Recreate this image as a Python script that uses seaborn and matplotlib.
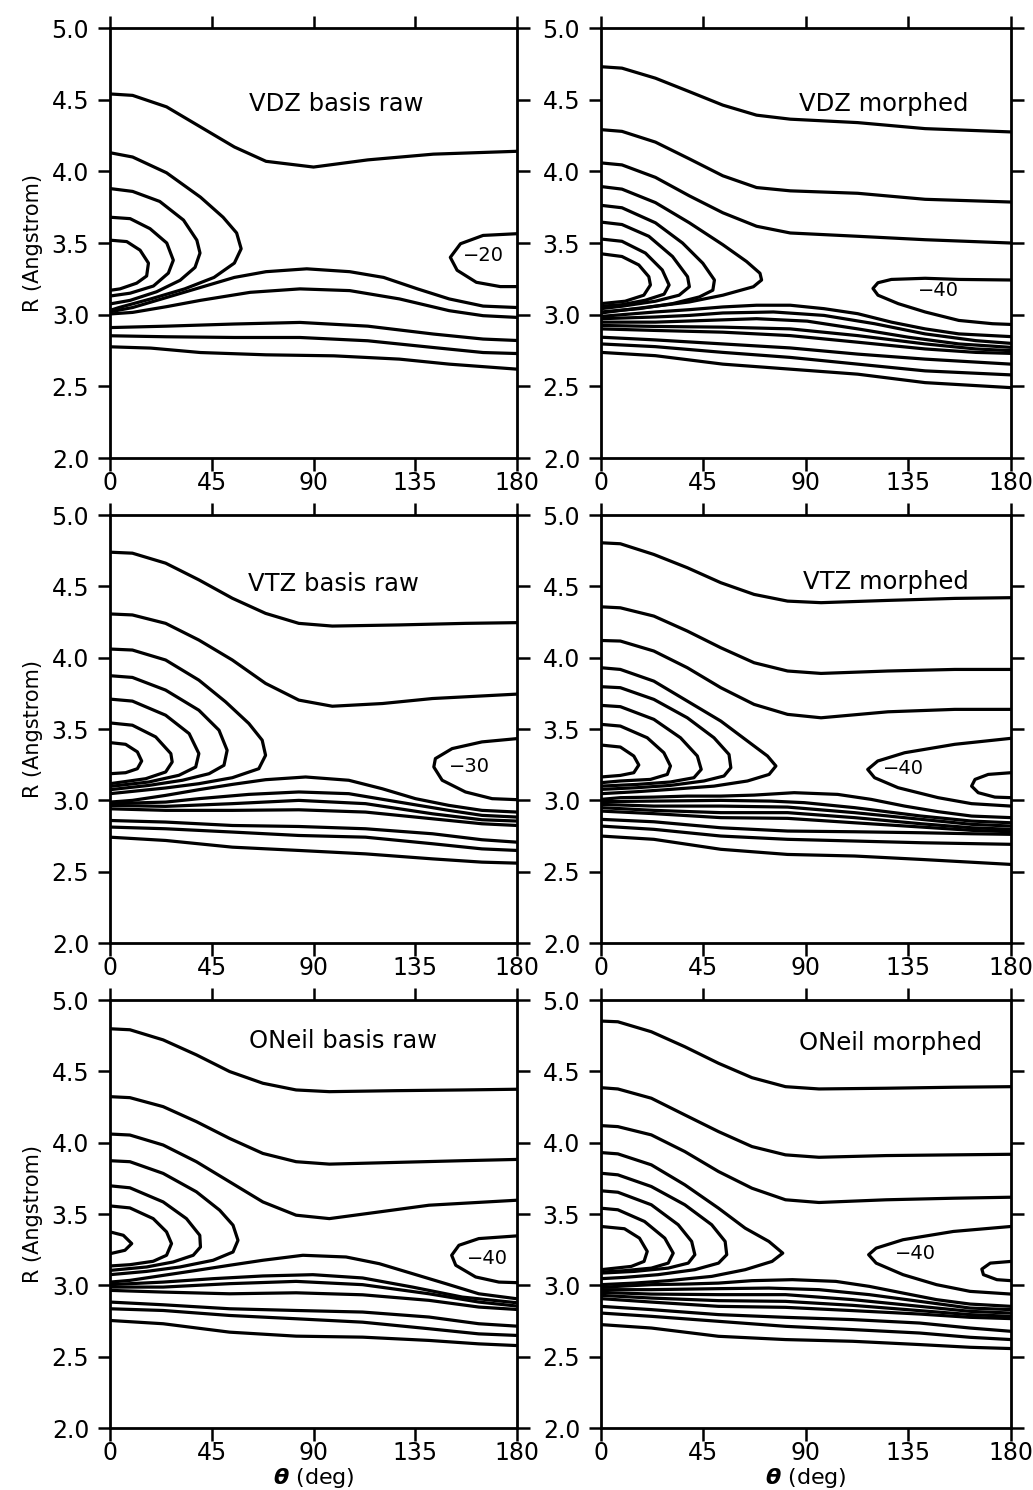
import matplotlib
matplotlib.use("Agg")
import matplotlib.pyplot as plt
import seaborn as sns

# contour lines: theta (deg) and R (Angstrom) per line

# --- VDZ basis raw
vdz_raw_theta = [
    [0, 10, 25, 40, 55, 69, 90, 114, 143, 180],
    [0, 10, 25, 40, 50, 56, 58, 55, 46, 33, 18, 4, 0],
    [0, 10, 22, 32.5, 38.4, 39.8, 37.6, 31, 20.6, 8.9, 0],
    [0, 8.9, 17.7, 25.1, 28, 25.8, 19.2, 8.9, 0],
    [0, 7.4, 13.3, 17, 16.2, 11.8, 4.4, 0],
    [0, 10, 25, 40, 55, 69, 87, 106, 121, 136, 150, 165, 180],
    [0, 10, 25, 40, 62, 84, 106, 128, 150, 165, 180],
    [0, 25, 55, 84, 114, 143, 165, 180],
    [0, 25, 55, 84, 114, 143, 165, 180],
    [0, 18, 40, 69, 99, 128, 150, 180],
    [180, 165, 155, 150.5, 153.5, 162, 172.6, 180],
]
vdz_raw_r = [
    [4.54, 4.53, 4.45, 4.31, 4.17, 4.07, 4.03, 4.08, 4.12, 4.14],
    [4.13, 4.10, 3.99, 3.82, 3.68, 3.57, 3.46, 3.36, 3.26, 3.18, 3.11, 3.05, 3.03],
    [3.88, 3.86, 3.79, 3.66, 3.52, 3.43, 3.33, 3.24, 3.16, 3.10, 3.075],
    [3.68, 3.67, 3.60, 3.50, 3.38, 3.29, 3.20, 3.15, 3.13],
    [3.52, 3.51, 3.45, 3.36, 3.27, 3.22, 3.18, 3.17],
    [3.02, 3.05, 3.12, 3.19, 3.26, 3.30, 3.32, 3.30, 3.26, 3.18, 3.11, 3.06, 3.05],
    [3.005, 3.016, 3.056, 3.10, 3.156, 3.18, 3.168, 3.11, 3.028, 2.993, 2.981],
    [2.91, 2.92, 2.935, 2.946, 2.92, 2.865, 2.83, 2.82],
    [2.853, 2.846, 2.841, 2.841, 2.818, 2.771, 2.736, 2.729],
    [2.776, 2.767, 2.736, 2.72, 2.713, 2.69, 2.655, 2.62],
    [3.565, 3.553, 3.495, 3.40, 3.31, 3.226, 3.196, 3.196],
]

# --- VDZ morphed
vdz_mor_theta = [
    [0, 9.2, 23.9, 38.8, 53.5, 68.3, 83.1, 112.7, 142.3, 180],
    [0, 9.2, 23.9, 38.8, 53.5, 68.3, 83.1, 112.7, 142.3, 180],
    [0, 9.2, 23.9, 38.8, 53.5, 68.3, 83.1, 112.7, 142.3, 180],
    [0, 9.2, 23.9, 38.8, 53.5, 63.9, 69.8, 70.5, 66.9, 53.5, 38.8, 23.9, 9.2, 0],
    [0, 9.2, 23.9, 35.8, 44.7, 49.8, 49.1, 43.2, 31.4, 16.6, 0],
    [0, 9.2, 21, 31.4, 38, 38.8, 34.3, 23.9, 9.2, 0],
    [0, 9.2, 19.5, 26.9, 29.9, 27.7, 19.5, 9.2, 0],
    [0, 9.2, 16.6, 21, 21.7, 18.8, 10.6, 0],
    [180, 157.1, 142.3, 127.5, 121.6, 119.4, 121.6, 130.5, 142.3, 157.1, 171.9, 180],
    [0, 9.2, 23.9, 38.8, 53.5, 68.3, 83.1, 97.9, 112.7, 127.5, 142.3, 157.1, 180],
    [0, 23.9, 38.8, 53.5, 75.7, 97.9, 120.1, 142.3, 164.5, 180],
    [0, 23.9, 46.1, 68.3, 90.5, 112.7, 134.9, 157.1, 180],
    [0, 23.9, 53.5, 83.1, 112.7, 142.3, 164.5, 180],
    [0, 23.9, 53.5, 83.1, 112.7, 142.3, 164.5, 180],
    [0, 23.9, 53.5, 83.1, 112.7, 142.3, 180],
    [0, 23.9, 53.5, 83.1, 112.7, 142.3, 180],
    [0, 23.9, 53.5, 83.1, 112.7, 142.3, 180],
]
vdz_mor_r = [
    [4.73, 4.72, 4.65, 4.556, 4.462, 4.392, 4.364, 4.34, 4.298, 4.275],
    [4.291, 4.279, 4.204, 4.087, 3.969, 3.887, 3.864, 3.847, 3.805, 3.786],
    [4.059, 4.045, 3.958, 3.829, 3.711, 3.617, 3.57, 3.547, 3.523, 3.50],
    [3.894, 3.876, 3.782, 3.641, 3.488, 3.371, 3.289, 3.242, 3.195, 3.136, 3.089, 3.059, 3.031, 3.012],
    [3.763, 3.746, 3.641, 3.50, 3.359, 3.242, 3.171, 3.124, 3.077, 3.042, 3.019],
    [3.646, 3.629, 3.547, 3.406, 3.265, 3.195, 3.136, 3.094, 3.059, 3.042],
    [3.528, 3.512, 3.43, 3.312, 3.207, 3.143, 3.101, 3.07, 3.059],
    [3.425, 3.406, 3.347, 3.265, 3.207, 3.136, 3.094, 3.077],
    [3.242, 3.246, 3.254, 3.246, 3.223, 3.183, 3.136, 3.077, 3.019, 2.96, 2.937, 2.932],
    [2.988, 3.0, 3.019, 3.035, 3.054, 3.066, 3.066, 3.042, 3.007, 2.948, 2.901, 2.866, 2.847],
    [2.972, 2.984, 2.995, 3.012, 3.019, 2.995, 2.937, 2.866, 2.819, 2.80],
    [2.948, 2.948, 2.96, 2.972, 2.955, 2.901, 2.843, 2.796, 2.772],
    [2.925, 2.918, 2.913, 2.901, 2.854, 2.796, 2.761, 2.749],
    [2.901, 2.89, 2.878, 2.854, 2.808, 2.761, 2.737, 2.73],
    [2.843, 2.824, 2.796, 2.768, 2.725, 2.69, 2.655],
    [2.796, 2.777, 2.737, 2.702, 2.655, 2.608, 2.58],
    [2.737, 2.714, 2.655, 2.62, 2.585, 2.526, 2.491],
]

# --- VTZ basis raw
vtz_raw_theta = [
    [0, 9.9, 24.6, 39.3, 54.1, 68.8, 83.5, 98.3, 127.8, 157.2, 180],
    [0, 9.9, 24.6, 39.3, 54.1, 68.8, 83.5, 98.3, 120.5, 142.6, 180],
    [0, 9.9, 24.6, 39.3, 51.1, 61.4, 67.3, 68.8, 65.8, 54.1, 39.3, 24.6, 9.9, 0],
    [0, 9.9, 24.6, 39.3, 48.2, 51.8, 50.4, 43.8, 32, 17.2, 0],
    [0, 9.9, 24.6, 35, 39.3, 37.9, 30.5, 17.2, 0],
    [0, 9.9, 20.2, 26.9, 27.5, 24.6, 15.8, 0],
    [0, 6.9, 12.1, 14, 12.1, 6.9, 0],
    [180, 164.5, 151.3, 143.9, 143.2, 146.9, 157.2, 169, 180],
    [0, 9.9, 24.6, 39.3, 54.1, 68.8, 86.5, 105.6, 120.3, 135.1, 149.8, 164.5, 180],
    [0, 24.6, 39.3, 61.4, 83.5, 105.6, 127.8, 149.8, 164.5, 180],
    [0, 24.6, 54.1, 83.5, 113, 142.6, 164.5, 180],
    [0, 24.6, 54.1, 83.5, 113, 142.6, 164.5, 180],
    [0, 24.6, 54.1, 83.5, 113, 142.6, 164.5, 180],
    [0, 24.6, 54.1, 83.5, 113, 142.6, 164.5, 180],
    [0, 24.6, 54.1, 83.5, 113, 142.6, 164.5, 180],
]
vtz_raw_r = [
    [4.74, 4.733, 4.663, 4.546, 4.417, 4.311, 4.241, 4.222, 4.23, 4.241, 4.246],
    [4.307, 4.30, 4.241, 4.124, 3.984, 3.82, 3.703, 3.66, 3.679, 3.714, 3.745],
    [4.061, 4.054, 3.984, 3.843, 3.691, 3.539, 3.422, 3.316, 3.222, 3.159, 3.117, 3.087, 3.063, 3.047],
    [3.874, 3.862, 3.773, 3.632, 3.492, 3.351, 3.246, 3.187, 3.141, 3.105, 3.075],
    [3.71, 3.696, 3.597, 3.468, 3.328, 3.234, 3.176, 3.129, 3.098],
    [3.543, 3.527, 3.445, 3.328, 3.269, 3.199, 3.152, 3.117],
    [3.405, 3.393, 3.34, 3.276, 3.222, 3.194, 3.187],
    [3.433, 3.41, 3.363, 3.293, 3.234, 3.141, 3.059, 3.012, 3.005],
    [2.988, 3.0, 3.035, 3.075, 3.112, 3.145, 3.164, 3.141, 3.082, 3.012, 2.965, 2.93, 2.918],
    [2.977, 2.988, 3.012, 3.042, 3.059, 3.047, 2.988, 2.93, 2.895, 2.883],
    [2.965, 2.958, 2.977, 3.0, 2.977, 2.906, 2.864, 2.855],
    [2.941, 2.93, 2.93, 2.934, 2.918, 2.871, 2.836, 2.824],
    [2.859, 2.848, 2.824, 2.817, 2.801, 2.766, 2.724, 2.707],
    [2.813, 2.801, 2.778, 2.754, 2.742, 2.696, 2.66, 2.649],
    [2.742, 2.719, 2.672, 2.649, 2.625, 2.59, 2.567, 2.56],
]

# --- VTZ morphed
vtz_mor_theta = [
    [0, 8.5, 23.2, 37.9, 52.6, 67.2, 81.9, 96.6, 126, 155.3, 180],
    [0, 8.5, 23.2, 37.9, 52.6, 67.2, 81.9, 96.6, 126, 155.3, 180],
    [0, 8.5, 23.2, 37.9, 52.6, 67.2, 81.9, 96.6, 126, 155.3, 180],
    [0, 8.5, 23.2, 37.9, 52.6, 64.3, 73.1, 76.8, 73.8, 64.3, 49.6, 30.5, 15.9, 0],
    [0, 8.5, 23.2, 37.9, 49.6, 56.2, 57, 54, 45.2, 30.5, 15.9, 0],
    [0, 8.5, 23.2, 34.9, 42.3, 44, 40.8, 30.5, 15.9, 0],
    [0, 8.5, 20.3, 27.6, 30.5, 29.1, 21.7, 8.5, 0],
    [0, 8.5, 14.4, 16.6, 14.4, 8.5, 0],
    [180, 155.3, 133.3, 121.5, 117.1, 120.1, 130.4, 148, 162.7, 180],
    [180, 170, 164.2, 162.7, 165.6, 172.9, 180],
    [0, 8.5, 23.2, 37.9, 52.6, 67.2, 84.8, 103.9, 118.6, 133.3, 147.9, 162.7, 180],
    [0, 23.2, 52.6, 74.6, 89.3, 111.3, 140.6, 162.7, 180],
    [0, 23.2, 52.6, 81.9, 111.3, 140.6, 162.7, 180],
    [0, 23.2, 52.6, 81.9, 111.3, 140.6, 162.7, 180],
    [0, 23.2, 52.6, 81.9, 111.3, 140.6, 162.7, 180],
    [0, 23.2, 52.6, 81.9, 111.3, 140.6, 162.7, 180],
    [0, 23.2, 52.6, 81.9, 111.3, 140.6, 180],
    [0, 23.2, 52.6, 81.9, 111.3, 140.6, 180],
]
vtz_mor_r = [
    [4.806, 4.799, 4.724, 4.631, 4.526, 4.444, 4.397, 4.386, 4.402, 4.416, 4.421],
    [4.357, 4.35, 4.292, 4.187, 4.07, 3.965, 3.907, 3.89, 3.907, 3.918, 3.918],
    [4.121, 4.117, 4.047, 3.93, 3.79, 3.673, 3.603, 3.579, 3.621, 3.638, 3.638],
    [3.93, 3.918, 3.836, 3.696, 3.556, 3.416, 3.311, 3.241, 3.182, 3.136, 3.10, 3.077, 3.061, 3.047],
    [3.797, 3.79, 3.708, 3.579, 3.439, 3.322, 3.229, 3.171, 3.136, 3.105, 3.089, 3.077],
    [3.666, 3.657, 3.568, 3.439, 3.311, 3.217, 3.159, 3.129, 3.112, 3.10],
    [3.533, 3.521, 3.439, 3.334, 3.241, 3.182, 3.147, 3.136, 3.124],
    [3.388, 3.374, 3.311, 3.248, 3.194, 3.175, 3.164],
    [3.435, 3.393, 3.334, 3.276, 3.217, 3.159, 3.089, 3.019, 2.977, 2.96],
    [3.194, 3.182, 3.147, 3.10, 3.054, 3.023, 3.019],
    [3.007, 3.019, 3.023, 3.03, 3.03, 3.037, 3.054, 3.042, 3.007, 2.96, 2.921, 2.89, 2.879],
    [2.991, 2.995, 3.0, 2.995, 2.984, 2.949, 2.89, 2.855, 2.843],
    [2.972, 2.96, 2.96, 2.953, 2.914, 2.867, 2.832, 2.82],
    [2.949, 2.93, 2.914, 2.914, 2.879, 2.836, 2.808, 2.797],
    [2.925, 2.907, 2.879, 2.874, 2.843, 2.813, 2.79, 2.78],
    [2.867, 2.85, 2.808, 2.785, 2.78, 2.773, 2.766, 2.762],
    [2.82, 2.797, 2.75, 2.727, 2.715, 2.703, 2.692],
    [2.75, 2.727, 2.657, 2.621, 2.61, 2.586, 2.551],
]

# --- ONeil basis raw
oneil_raw_theta = [
    [0, 8.8, 23.5, 38.2, 52.9, 67.6, 82.3, 97, 126.4, 155.8, 180],
    [0, 8.8, 23.5, 38.2, 52.9, 67.6, 82.3, 97, 126.4, 155.8, 180],
    [0, 8.8, 23.5, 38.2, 52.9, 67.6, 82.3, 97, 119.1, 141.1, 180],
    [0, 8.8, 23.5, 38.2, 48.5, 54.4, 56.6, 54.4, 45.6, 30.9, 16.2, 0],
    [0, 8.8, 23.5, 33.8, 39.7, 40, 36.8, 27.9, 16.2, 0],
    [0, 8.8, 19.1, 25, 27.2, 25, 19.1, 8.8, 0],
    [0, 5.9, 9.6, 6.6, 0],
    [180, 163.1, 154.3, 151.1, 152.9, 161.7, 172, 180],
    [0, 8.8, 23.5, 38.2, 52.9, 67.6, 85.3, 104.4, 119.1, 133.8, 148.5, 163.1, 180],
    [0, 23.5, 45.6, 67.6, 89.7, 111.7, 133.8, 155.8, 180],
    [0, 23.5, 52.9, 82.3, 111.7, 141.1, 163.1, 180],
    [0, 23.5, 52.9, 82.3, 111.7, 141.1, 163.1, 180],
    [0, 23.5, 52.9, 82.3, 111.7, 141.1, 163.1, 180],
    [0, 23.5, 52.9, 82.3, 111.7, 141.1, 163.1, 180],
    [0, 23.5, 52.9, 82.3, 111.7, 141.1, 163.1, 180],
]
oneil_raw_r = [
    [4.799, 4.792, 4.721, 4.616, 4.499, 4.417, 4.37, 4.358, 4.365, 4.37, 4.375],
    [4.323, 4.316, 4.253, 4.148, 4.03, 3.925, 3.867, 3.85, 3.862, 3.874, 3.883],
    [4.061, 4.054, 3.984, 3.867, 3.726, 3.585, 3.492, 3.468, 3.515, 3.562, 3.597],
    [3.874, 3.867, 3.785, 3.656, 3.527, 3.422, 3.316, 3.234, 3.176, 3.129, 3.098, 3.075],
    [3.698, 3.684, 3.585, 3.468, 3.351, 3.269, 3.211, 3.164, 3.129, 3.105],
    [3.557, 3.543, 3.468, 3.375, 3.293, 3.211, 3.169, 3.145, 3.136],
    [3.375, 3.351, 3.293, 3.246, 3.222],
    [3.347, 3.328, 3.281, 3.211, 3.141, 3.059, 3.023, 3.019],
    [3.023, 3.035, 3.07, 3.105, 3.141, 3.176, 3.211, 3.199, 3.152, 3.082, 3.012, 2.941, 2.906],
    [3.005, 3.023, 3.047, 3.066, 3.075, 3.052, 2.988, 2.918, 2.878],
    [2.988, 2.988, 3.012, 3.028, 3.005, 2.941, 2.883, 2.855],
    [2.965, 2.953, 2.941, 2.948, 2.934, 2.895, 2.848, 2.831],
    [2.883, 2.864, 2.836, 2.824, 2.813, 2.778, 2.731, 2.714],
    [2.836, 2.824, 2.789, 2.766, 2.742, 2.696, 2.66, 2.649],
    [2.754, 2.731, 2.672, 2.644, 2.637, 2.614, 2.59, 2.578],
]

# --- ONeil morphed
oneil_mor_theta = [
    [0, 7.4, 22.1, 36.8, 51.6, 66.3, 81, 95.7, 125.2, 154.7, 180],
    [0, 7.4, 22.1, 36.8, 51.6, 66.3, 81, 95.7, 125.2, 154.7, 180],
    [0, 7.4, 22.1, 36.8, 51.6, 66.3, 81, 95.7, 125.2, 154.7, 180],
    [0, 7.4, 22.1, 36.8, 51.6, 63.3, 73.7, 79.8, 75.1, 63.3, 48.6, 29.5, 14.7, 0],
    [0, 7.4, 22.1, 36.8, 48.6, 54.5, 55.2, 51.6, 41.2, 25, 10.3, 0],
    [0, 7.4, 22.1, 33.9, 39.8, 41.2, 38.3, 29.5, 14.7, 0],
    [0, 7.4, 19.1, 28, 31.7, 29.5, 22.1, 10.3, 0],
    [0, 10.3, 16.9, 20.3, 18.9, 13.3, 0],
    [180, 154.7, 132.6, 120.8, 117.5, 120.8, 132.6, 147.3, 162, 180],
    [180, 170.9, 167.2, 167.9, 173.8, 180],
    [0, 7.4, 22.1, 36.8, 51.6, 66.3, 84, 103.1, 117.8, 132.6, 147.3, 162, 180],
    [0, 22.1, 51.6, 73.7, 95.7, 117.8, 139.9, 162, 180],
    [0, 22.1, 51.6, 81, 110.5, 139.9, 162, 180],
    [0, 22.1, 51.6, 81, 110.5, 139.9, 162, 180],
    [0, 22.1, 51.6, 81, 110.5, 139.9, 162, 180],
    [0, 22.1, 51.6, 81, 110.5, 139.9, 162, 180],
    [0, 22.1, 51.6, 81, 110.5, 139.9, 162, 180],
    [0, 22.1, 51.6, 81, 110.5, 139.9, 162, 180],
]
oneil_mor_r = [
    [4.853, 4.848, 4.778, 4.673, 4.557, 4.456, 4.393, 4.377, 4.382, 4.389, 4.393],
    [4.386, 4.377, 4.312, 4.195, 4.078, 3.973, 3.915, 3.898, 3.91, 3.915, 3.919],
    [4.12, 4.113, 4.055, 3.938, 3.798, 3.681, 3.60, 3.581, 3.60, 3.611, 3.618],
    [3.931, 3.922, 3.845, 3.705, 3.541, 3.401, 3.308, 3.226, 3.168, 3.11, 3.063, 3.033, 3.016, 3.005],
    [3.786, 3.775, 3.693, 3.565, 3.425, 3.308, 3.215, 3.156, 3.11, 3.075, 3.056, 3.047],
    [3.663, 3.653, 3.565, 3.425, 3.308, 3.215, 3.156, 3.121, 3.098, 3.086],
    [3.541, 3.53, 3.448, 3.331, 3.226, 3.156, 3.121, 3.103, 3.093],
    [3.413, 3.397, 3.331, 3.238, 3.168, 3.133, 3.11],
    [3.413, 3.378, 3.32, 3.261, 3.215, 3.156, 3.075, 3.005, 2.958, 2.939],
    [3.168, 3.156, 3.114, 3.075, 3.04, 3.033],
    [2.986, 2.993, 3.005, 3.009, 3.016, 3.033, 3.04, 3.028, 2.993, 2.946, 2.90, 2.869, 2.853],
    [2.97, 2.97, 2.977, 2.981, 2.97, 2.935, 2.888, 2.841, 2.83],
    [2.951, 2.939, 2.935, 2.935, 2.90, 2.853, 2.818, 2.806],
    [2.93, 2.911, 2.893, 2.888, 2.86, 2.823, 2.795, 2.783],
    [2.907, 2.883, 2.853, 2.846, 2.823, 2.799, 2.776, 2.767],
    [2.853, 2.83, 2.795, 2.776, 2.76, 2.736, 2.701, 2.678],
    [2.806, 2.783, 2.748, 2.713, 2.69, 2.666, 2.636, 2.62],
    [2.725, 2.701, 2.643, 2.62, 2.608, 2.585, 2.566, 2.557],
]

panel_titles = ["VDZ basis raw", "VDZ morphed", "VTZ basis raw",
                "VTZ morphed", "ONeil basis raw", "ONeil morphed"]
title_pos = [(100, 4.47), (124, 4.47), (99, 4.52), (125, 4.53), (103, 4.71), (127, 4.70)]
level_labels = ["\u221220", "\u221240", "\u221230", "\u221240", "\u221240", "\u221240"]
level_pos = [(165, 3.41), (148, 3.17), (159, 3.24), (133, 3.22), (167, 3.19), (138, 3.22)]

x_ticks = [0, 45, 90, 135, 180]
y_ticks = [2.0, 2.5, 3.0, 3.5, 4.0, 4.5, 5.0]

sns.set_style("ticks")
plt.rcParams["font.family"] = ["DejaVu Sans"]
plt.rcParams["mathtext.fontset"] = "dejavusans"
plt.rcParams["text.color"] = "black"
plt.rcParams["axes.labelcolor"] = "black"
plt.rcParams["xtick.color"] = "black"
plt.rcParams["ytick.color"] = "black"

fig = plt.figure(figsize=(10.33, 14.90), dpi=100)

col_x = [0.1065, 0.5818]
col_w = [0.394, 0.3969]
row_y = [0.6926, 0.3671, 0.0416]
row_h = [0.2886, 0.2872, 0.2872]

thetas = [vdz_raw_theta, vdz_mor_theta, vtz_raw_theta, vtz_mor_theta, oneil_raw_theta, oneil_mor_theta]
radii = [vdz_raw_r, vdz_mor_r, vtz_raw_r, vtz_mor_r, oneil_raw_r, oneil_mor_r]

for i in range(6):
    row, col = divmod(i, 2)
    ax = fig.add_axes([col_x[col], row_y[row], col_w[col], row_h[row]])
    for th, rr in zip(thetas[i], radii[i]):
        sns.lineplot(x=th, y=rr, sort=False, estimator=None, ax=ax,
                     color="black", linewidth=2.3, solid_joinstyle="round",
                     solid_capstyle="round")
    ax.set_xlim(0, 180)
    ax.set_ylim(2.0, 5.0)
    ax.set_xticks(x_ticks)
    ax.set_xticklabels([str(t) for t in x_ticks])
    ax.set_yticks(y_ticks)
    ax.set_yticklabels([f"{v:.1f}" for v in y_ticks])
    ax.tick_params(axis="both", direction="out", length=9, width=1.8,
                   top=True, right=True, labelsize=17, color="black")
    ax.tick_params(axis="x", pad=0)
    ax.tick_params(axis="y", pad=6)
    for sp in ax.spines.values():
        sp.set_visible(True)
        sp.set_linewidth(2.0)
        sp.set_color("black")
    ax.text(*title_pos[i], panel_titles[i], ha="center", va="center", fontsize=17.5)
    ax.text(*level_pos[i], level_labels[i], ha="center", va="center", fontsize=14)
    if col == 0:
        ax.set_ylabel("R (Angstrom)", fontsize=15, labelpad=6)
    else:
        ax.set_ylabel("")
    if row == 2:
        ax.set_xlabel(r"$\boldsymbol{\theta}$ (deg)", fontsize=16, labelpad=1)
    else:
        ax.set_xlabel("")

fig.savefig("out.png", dpi=100, facecolor="white")
